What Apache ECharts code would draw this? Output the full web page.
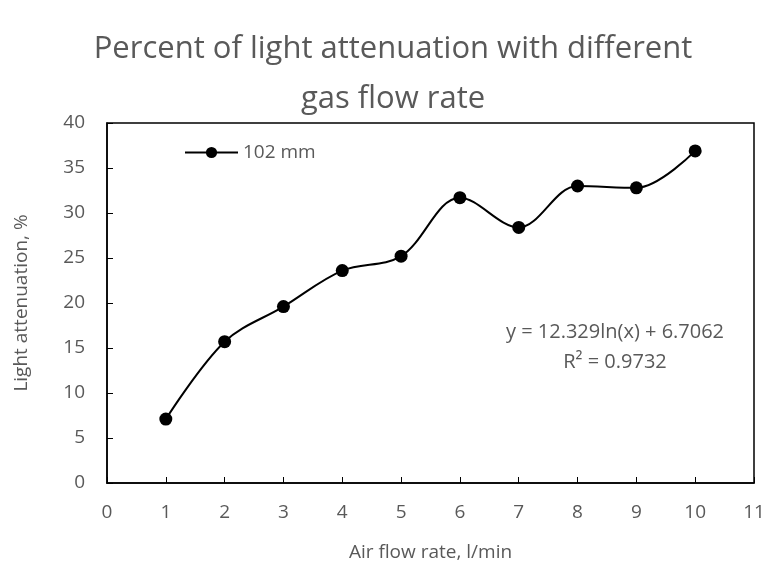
<!DOCTYPE html>
<html>
<head>
<meta charset="utf-8">
<script src="https://cdn.jsdelivr.net/npm/echarts@6/dist/echarts.min.js"></script>
<style>
  html, body { margin: 0; padding: 0; background: #fff; }
  #chart { width: 768px; height: 565px; }
</style>
</head>
<body>
<div id="chart"></div>
<script>
// 数据
var flowRate = [1, 2, 3, 4, 5, 6, 7, 8, 9, 10];
var attenuation = [7.1, 15.7, 19.6, 23.6, 25.2, 31.7, 28.4, 33.0, 32.8, 36.9];
var seriesName = "102 mm";
var fitText = ["y = 12.329ln(x) + 6.7062", "R\u00b2 = 0.9732"];

var chart = echarts.init(document.getElementById("chart"));
var font = "'Open Sans', sans-serif";
var grey = "#595959";

//坐标轴公共样式
var commonStyle = {
  axisLine: { show: true, lineStyle: { color: "#000", width: 1.5 } },
  axisTick: { show: true, inside: true, length: 6, lineStyle: { color: "#000", width: 1 } },
  axisLabel: { color: grey, fontSize: 19, fontFamily: font },
  splitLine: { show: false },
  nameTextStyle: { color: grey, fontSize: 19, fontFamily: font }
};

chart.setOption({
  animation: false,
  title: {
    text: "Percent of light attenuation with different\ngas flow rate",
    left: 388,
    textAlign: "center",
    top: 19,
    textStyle: { color: grey, fontSize: 31, fontWeight: "normal", fontFamily: font, lineHeight: 50 }
  },
  legend: {
    data: [seriesName],
    left: 184,
    top: 143,
    padding: 0,
    itemWidth: 53,
    itemHeight: 14,
    itemGap: 5,
    textStyle: { color: grey, fontSize: 19, fontFamily: font }
  },
  grid: {
    left: 107,
    right: 14,
    top: 123,
    bottom: 82,
    outerBoundsMode: "none",
    show: true,
    borderColor: "#000",
    borderWidth: 1.5
  },
  xAxis: {
    type: "value",
    min: 0,
    max: 11,
    interval: 1,
    name: "Air flow rate, l/min",
    nameLocation: "middle",
    nameGap: 60,
    ...commonStyle,
    axisLabel: { ...commonStyle.axisLabel, margin: 20 }
  },
  yAxis: {
    type: "value",
    min: 0,
    max: 40,
    interval: 5,
    name: "Light attenuation, %",
    nameLocation: "middle",
    nameGap: 76,
    ...commonStyle,
    axisLabel: { ...commonStyle.axisLabel, margin: 22 }
  },
  series: [
    {
      name: seriesName,
      type: "line",
      smooth: 0.35,
      data: flowRate.map(function (x, i) { return [x, attenuation[i]]; }),
      symbol: "circle",
      symbolSize: 13,
      itemStyle: { color: "#000" },
      lineStyle: { color: "#000", width: 2 }
    }
  ],
  graphic: [
    {
      type: "text",
      x: 615,
      y: 332,
      style: {
        text: fitText[0],
        fill: grey,
        fontSize: 20,
        fontFamily: font,
        align: "center",
        verticalAlign: "middle"
      }
    },
    {
      type: "text",
      x: 615,
      y: 362,
      style: {
        text: fitText[1],
        fill: grey,
        fontSize: 20,
        fontFamily: font,
        align: "center",
        verticalAlign: "middle"
      }
    }
  ]
});
</script>
</body>
</html>
